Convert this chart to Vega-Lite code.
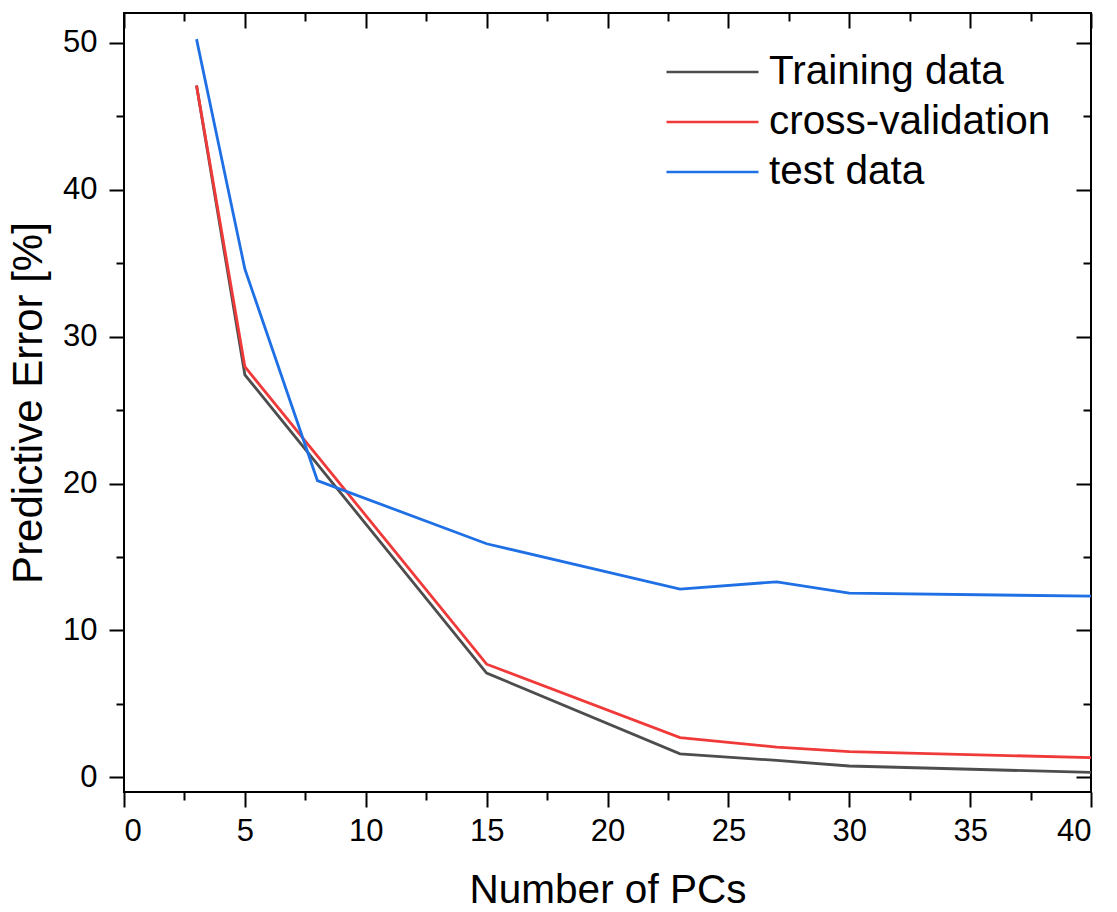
{
  "$schema": "https://vega.github.io/schema/vega-lite/v6.json",
  "autosize": {"type": "none"},
  "padding": {"left": 124, "top": 13, "right": 26, "bottom": 120},
  "width": 967,
  "height": 779,
  "background": "white",
  "config": {
    "font": "Liberation Sans",
    "view": {"stroke": "black", "strokeWidth": 2},
    "axis": {"grid": false, "domain": false, "tickColor": "black", "tickWidth": 2, "labelColor": "black", "titleColor": "black", "labelFont": "Liberation Sans", "titleFont": "Liberation Sans", "titleFontWeight": "normal", "labelFontSize": 31, "titleFontSize": 40}
  },
  "data": {
    "values": [
      {"pcs": 3, "error": 47.1, "series": "Training data"},
      {"pcs": 5, "error": 27.4, "series": "Training data"},
      {"pcs": 15, "error": 7.1, "series": "Training data"},
      {"pcs": 23, "error": 1.6, "series": "Training data"},
      {"pcs": 27, "error": 1.15, "series": "Training data"},
      {"pcs": 30, "error": 0.77, "series": "Training data"},
      {"pcs": 40, "error": 0.33, "series": "Training data"},
      {"pcs": 3, "error": 47.1, "series": "cross-validation"},
      {"pcs": 5, "error": 27.95, "series": "cross-validation"},
      {"pcs": 15, "error": 7.7, "series": "cross-validation"},
      {"pcs": 23, "error": 2.7, "series": "cross-validation"},
      {"pcs": 27, "error": 2.06, "series": "cross-validation"},
      {"pcs": 30, "error": 1.75, "series": "cross-validation"},
      {"pcs": 40, "error": 1.34, "series": "cross-validation"},
      {"pcs": 3, "error": 50.25, "series": "test data"},
      {"pcs": 5, "error": 34.6, "series": "test data"},
      {"pcs": 8, "error": 20.2, "series": "test data"},
      {"pcs": 15, "error": 15.9, "series": "test data"},
      {"pcs": 23, "error": 12.81, "series": "test data"},
      {"pcs": 27, "error": 13.31, "series": "test data"},
      {"pcs": 30, "error": 12.54, "series": "test data"},
      {"pcs": 40, "error": 12.33, "series": "test data"}
    ]
  },
  "resolve": {"axis": {"x": "independent", "y": "independent"}},
  "layer": [
    {
      "mark": {"type": "line", "strokeWidth": 2.8},
      "encoding": {
        "x": {"field": "pcs", "type": "quantitative", "scale": {"domain": [0, 40], "nice": false, "zero": false},
              "axis": {"orient": "bottom", "values": [0, 5, 10, 15, 20, 25, 30, 35, 40], "tickSize": 15, "labelPadding": 9, "title": "Number of PCs", "titleFontSize": 40.5, "titlePadding": 24}},
        "y": {"field": "error", "type": "quantitative", "scale": {"domain": [-1, 52.03], "nice": false, "zero": false},
              "axis": {"orient": "left", "values": [0, 10, 20, 30, 40, 50], "tickSize": 15, "labelPadding": 12, "title": "Predictive Error [%]", "titleFontSize": 42, "titlePadding": 12}},
        "color": {"field": "series", "type": "nominal",
                  "scale": {"domain": ["Training data", "cross-validation", "test data"], "range": ["#4d4d4d", "#f03a3a", "#1f70e5"]},
                  "legend": {"title": null, "orient": "none", "legendX": 541, "legendY": 34, "padding": 0, "symbolType": "stroke", "symbolSize": 8464, "symbolStrokeWidth": 2.5, "clipHeight": 50, "labelFontSize": 40.5, "labelFont": "Liberation Sans", "labelColor": "black", "labelOffset": 9, "rowPadding": 0, "labelLimit": 400}}
      }
    },
    {
      "mark": {"type": "line", "strokeOpacity": 0},
      "encoding": {
        "x": {"field": "pcs", "type": "quantitative", "axis": {"orient": "bottom", "values": [2.5, 7.5, 12.5, 17.5, 22.5, 27.5, 32.5, 37.5], "tickSize": 8, "labels": false, "title": null}},
        "y": {"field": "error", "type": "quantitative", "axis": {"orient": "left", "values": [5, 15, 25, 35, 45], "tickSize": 8, "labels": false, "title": null}},
        "detail": {"field": "series"}
      }
    },
    {
      "mark": {"type": "line", "strokeOpacity": 0},
      "encoding": {
        "x": {"field": "pcs", "type": "quantitative", "axis": {"orient": "top", "values": [0, 5, 10, 15, 20, 25, 30, 35, 40], "tickSize": -15, "labels": false, "title": null}},
        "y": {"field": "error", "type": "quantitative", "axis": {"orient": "right", "values": [0, 10, 20, 30, 40, 50], "tickSize": -15, "labels": false, "title": null}},
        "detail": {"field": "series"}
      }
    },
    {
      "mark": {"type": "line", "strokeOpacity": 0},
      "encoding": {
        "x": {"field": "pcs", "type": "quantitative", "axis": {"orient": "top", "values": [2.5, 7.5, 12.5, 17.5, 22.5, 27.5, 32.5, 37.5], "tickSize": -8, "labels": false, "title": null}},
        "y": {"field": "error", "type": "quantitative", "axis": {"orient": "right", "values": [5, 15, 25, 35, 45], "tickSize": -8, "labels": false, "title": null}},
        "detail": {"field": "series"}
      }
    }
  ]
}
